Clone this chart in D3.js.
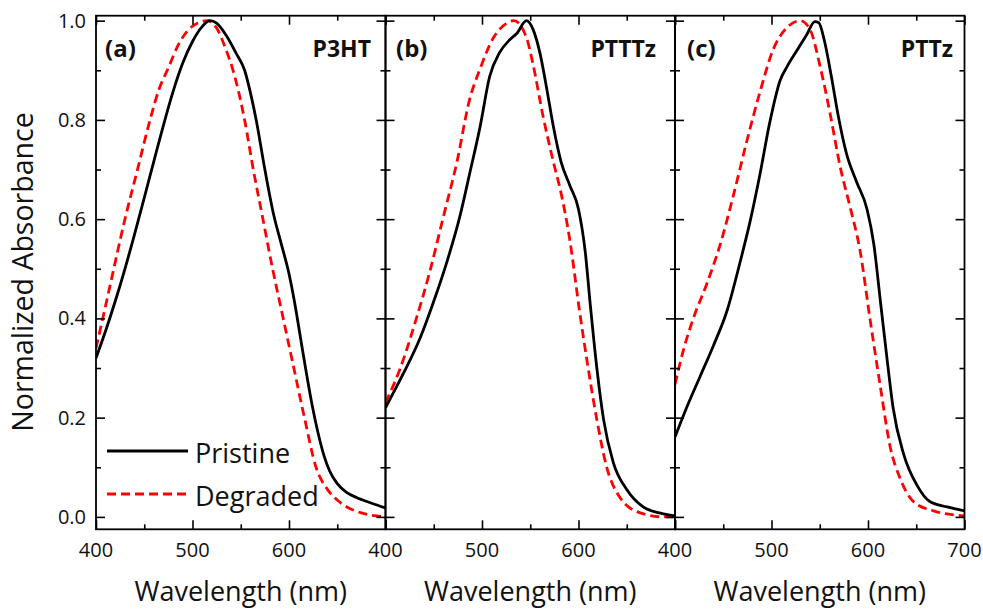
<!DOCTYPE html>
<html>
<head>
<meta charset="utf-8">
<script src="https://cdn.jsdelivr.net/npm/d3@7"></script>
<style>
  html, body { margin: 0; padding: 0; background: #fff; }
  svg { display: block; }
  text { font-family: "Open Sans", "DejaVu Sans", sans-serif; fill: #111; }
</style>
</head>
<body>
<svg id="chart" width="983" height="610"></svg>
<script>
// UV-vis absorbance spectra, [wavelength (nm), normalized absorbance]
const p3htPristine = [
  [400,0.32],[410,0.375],[420,0.435],[430,0.50],[440,0.57],[450,0.643],[460,0.717],
  [470,0.79],[480,0.858],[490,0.915],[500,0.958],[510,0.988],[518,1.0],[525,0.995],
  [535,0.97],[545,0.935],[554,0.90],[560,0.855],[566,0.80],[575,0.70],[584,0.61],
  [592,0.55],[600,0.49],[606,0.43],[612,0.36],[618,0.29],[624,0.225],[630,0.17],
  [636,0.125],[642,0.093],[650,0.067],[660,0.049],[670,0.039],[685,0.028],[700,0.018]
];
const p3htDegraded = [
  [400,0.34],[407,0.40],[415,0.47],[430,0.60],[443,0.70],[456,0.80],[465,0.86],
  [475,0.905],[485,0.95],[495,0.98],[505,0.995],[515,1.0],[525,0.985],[535,0.94],
  [542,0.90],[554,0.80],[563,0.70],[573,0.60],[583,0.50],[594,0.40],[605,0.30],
  [616,0.20],[628,0.10],[640,0.055],[650,0.034],[660,0.02],[675,0.008],[700,0.0]
];
const ptttzPristine = [
  [400,0.22],[418,0.287],[436,0.361],[451,0.44],[463,0.51],[477,0.605],[487,0.69],
  [498,0.786],[508,0.888],[518,0.935],[529,0.962],[536,0.974],[546,1.0],[553,0.982],
  [560,0.935],[567,0.864],[574,0.786],[582,0.715],[591,0.668],[600,0.62],[607,0.534],
  [612,0.432],[619,0.30],[626,0.196],[636,0.11],[650,0.055],[667,0.02],[684,0.008],
  [700,0.002]
];
const ptttzDegraded = [
  [400,0.23],[415,0.298],[432,0.40],[446,0.495],[460,0.605],[474,0.715],[487,0.84],
  [498,0.903],[512,0.966],[525,0.994],[533,1.0],[546,0.966],[553,0.911],[563,0.81],
  [574,0.715],[582,0.652],[591,0.558],[601,0.416],[610,0.30],[619,0.196],[629,0.102],
  [643,0.039],[664,0.008],[688,0.0],[700,0.0]
];
const pttzPristine = [
  [400,0.161],[412,0.22],[426,0.283],[440,0.346],[454,0.416],[467,0.51],[478,0.597],
  [488,0.69],[498,0.793],[509,0.88],[516,0.907],[526,0.939],[536,0.97],[545,0.998],
  [549,0.996],[555,0.958],[562,0.888],[569,0.81],[578,0.73],[588,0.676],[599,0.62],
  [606,0.55],[613,0.432],[620,0.314],[626,0.22],[637,0.126],[651,0.063],[664,0.031],
  [682,0.02],[700,0.012]
];
const pttzDegraded = [
  [400,0.267],[409,0.338],[419,0.40],[433,0.47],[447,0.55],[460,0.644],[474,0.754],
  [488,0.856],[502,0.943],[516,0.986],[530,1.0],[540,0.982],[550,0.911],[561,0.81],
  [571,0.707],[581,0.628],[592,0.534],[602,0.40],[613,0.26],[623,0.141],[633,0.079],
  [647,0.031],[668,0.012],[689,0.004],[700,0.002]
];

const panelLetters = ["(a)", "(b)", "(c)"];
const panelNames = ["P3HT", "PTTTz", "PTTz"];
const pristineSeries = [p3htPristine, ptttzPristine, pttzPristine];
const degradedSeries = [p3htDegraded, ptttzDegraded, pttzDegraded];
const xMajorTicks = [400, 500, 600, 700];
const xMinorTicks = [450, 550, 650];
const yMajorTicks = [0, 0.2, 0.4, 0.6, 0.8, 1.0];
const yMinorTicks = [0.1, 0.3, 0.5, 0.7, 0.9];
const seriesNames = ["Pristine", "Degraded"];

const svg = d3.select("#chart");
const panelLefts = [96, 385.5, 675];
const panelW = 289.5;
const plotTop = 15.7, plotBottom = 529.3;
// per-panel inset of the letter (left) and the polymer name (right)
const letterInset = [9, 10.5, 12];
const nameInset = [14.5, 19, 11.5];

const y = d3.scaleLinear().domain([-0.025, 1.01]).range([plotBottom, plotTop]);

const styles = {
  Pristine: { stroke: "#000", dash: null, width: 2.8 },
  Degraded: { stroke: "#ff0000", dash: "9,5", width: 2.8 }
};

panelLefts.forEach((left, i) => {
  const x = d3.scaleLinear().domain([400, 700]).range([left, left + panelW]);
  const g = svg.append("g");

  const clipId = "clip" + i;
  svg.append("clipPath").attr("id", clipId)
    .append("rect").attr("x", left).attr("y", plotTop)
    .attr("width", panelW).attr("height", plotBottom - plotTop);

  const line = d3.line().x(d => x(d[0])).y(d => y(d[1])).curve(d3.curveMonotoneX);

  const plot = g.append("g").attr("clip-path", `url(#${clipId})`);
  plot.append("path").datum(degradedSeries[i])
    .attr("d", line).attr("fill", "none")
    .attr("stroke", styles.Degraded.stroke).attr("stroke-width", styles.Degraded.width)
    .attr("stroke-dasharray", styles.Degraded.dash);
  plot.append("path").datum(pristineSeries[i])
    .attr("d", line).attr("fill", "none")
    .attr("stroke", styles.Pristine.stroke).attr("stroke-width", styles.Pristine.width);

  // inward ticks on all four sides
  const axes = [
    { ax: () => d3.axisBottom(x), tr: `translate(0,${plotBottom})`, major: xMajorTicks, minor: xMinorTicks },
    { ax: () => d3.axisTop(x), tr: `translate(0,${plotTop})`, major: xMajorTicks, minor: xMinorTicks },
    { ax: () => d3.axisLeft(y), tr: `translate(${left},0)`, major: yMajorTicks, minor: yMinorTicks },
    { ax: () => d3.axisRight(y), tr: `translate(${left + panelW},0)`, major: yMajorTicks, minor: yMinorTicks }
  ];
  axes.forEach(a => {
    [[a.major, 9], [a.minor, 5]].forEach(([vals, len]) => {
      const ag = g.append("g").attr("transform", a.tr)
        .call(a.ax().tickValues(vals).tickSize(-len).tickFormat(""));
      ag.select(".domain").remove();
      ag.selectAll("line").attr("stroke", "#000").attr("stroke-width", 1.6);
    });
  });

  // tick labels on the bottom axis
  const xLabels = i < 2 ? [400, 500, 600] : [400, 500, 600, 700];
  g.selectAll(".xl").data(xLabels).enter().append("text")
    .attr("x", d => x(d)).attr("y", 557)
    .attr("text-anchor", "middle").attr("font-size", 20)
    .text(d => d);

  // frame
  g.append("rect").attr("x", left).attr("y", plotTop)
    .attr("width", panelW).attr("height", plotBottom - plotTop)
    .attr("fill", "none").attr("stroke", "#000").attr("stroke-width", 1.8);

  g.append("text").attr("x", left + letterInset[i]).attr("y", 57)
    .attr("font-size", 24).attr("font-weight", "bold").text(panelLetters[i]);
  g.append("text").attr("x", left + panelW - nameInset[i]).attr("y", 57)
    .attr("text-anchor", "end").attr("font-size", 23).attr("font-weight", "bold")
    .text(panelNames[i]);

  g.append("text").attr("x", left + panelW / 2).attr("y", 601)
    .attr("text-anchor", "middle").attr("font-size", 27)
    .text("Wavelength (nm)");
});

// y tick labels on the first panel
svg.selectAll(".yl").data(yMajorTicks).enter().append("text")
  .attr("x", 86).attr("y", d => y(d) + 7)
  .attr("text-anchor", "end").attr("font-size", 20)
  .text(d => d.toFixed(1));

svg.append("text")
  .attr("transform", "translate(33,272) rotate(-90)")
  .attr("text-anchor", "middle").attr("font-size", 28.5)
  .text("Normalized Absorbance");

// legend
const legend = svg.append("g");
seriesNames.forEach((name, k) => {
  const ly = 451 + k * 43;
  const s = styles[name];
  legend.append("line").attr("x1", 107).attr("x2", 188).attr("y1", ly).attr("y2", ly)
    .attr("stroke", s.stroke).attr("stroke-width", 3).attr("stroke-dasharray", s.dash);
  legend.append("text").attr("x", 195).attr("y", ly + 12)
    .attr("font-size", 27).text(name);
});
</script>
</body>
</html>
